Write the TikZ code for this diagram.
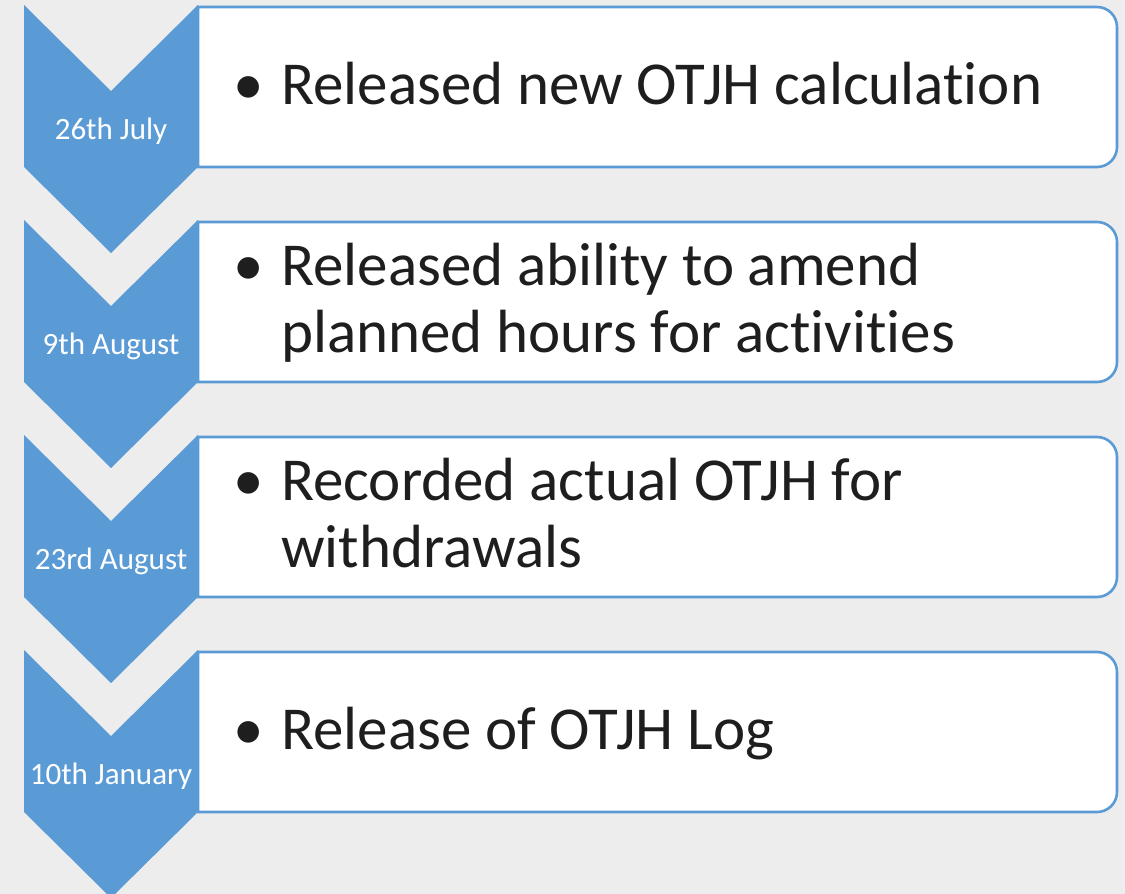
\documentclass[tikz,border=0pt]{standalone}
\usepackage{fontspec}
\setmainfont{Carlito}[Ligatures=NoCommon]
\definecolor{chev}{HTML}{5B9BD5}
\definecolor{bg}{HTML}{EDEDED}
\definecolor{ink}{HTML}{1E1E1E}
\tikzset{
  chevshape/.style={fill=chev, draw=none},
  itembox/.style={draw=chev, line width=2.6pt, fill=white, line join=miter},
  datelabel/.style={text=white, font=\fontsize{31}{37}\selectfont, anchor=base, inner sep=0pt},
  itemtext/.style={text=ink, font=\fontsize{61}{67}\selectfont, anchor=base west, align=left, inner sep=0pt},
  bulletmark/.style={text=ink, font=\fontsize{61}{67}\selectfont, anchor=base, inner sep=0pt}
}
\begin{document}
\begin{tikzpicture}[x=1pt,y=-1pt]
\useasboundingbox (0,0) rectangle (1125,894);
\fill[bg] (0,0) rectangle (1125,894);
\foreach \i/\date [count=\n] in {0/26th July, 1/9th August, 2/23rd August, 3/10th January} {
  \pgfmathsetmacro{\T}{5+215*\i}
  \fill[chevshape] (24,\T) -- (111,\T+86) -- (198,\T) -- (198,\T+162) -- (111,\T+248) -- (24,\T+162) -- cycle;
  \draw[itembox] (198,\T+2) -- (1097,\T+2) arc[start angle=-90,end angle=0,radius=20]
     -- (1117,\T+142) arc[start angle=0,end angle=90,radius=20] -- (198,\T+162) -- cycle;
  \node[datelabel] (date\n) at (111,\T+134) {\date};
}
\node[bulletmark] (b1) at (249,5+99) {•};
\node[itemtext] (t1) at (281,5+99) {Released new OTJH calculation};
\node[bulletmark] (b2) at (249,220+65) {•};
\node[itemtext] (t2) at (281,220+132) {Released ability to amend\\planned hours for activities};
\node[bulletmark] (b3) at (249,435+65) {•};
\node[itemtext] (t3) at (281,435+132) {Recorded actual OTJH for\\withdrawals};
\node[bulletmark] (b4) at (249,650+99) {•};
\node[itemtext] (t4) at (281,650+99) {Release of OTJH Log};
\end{tikzpicture}
\end{document}
